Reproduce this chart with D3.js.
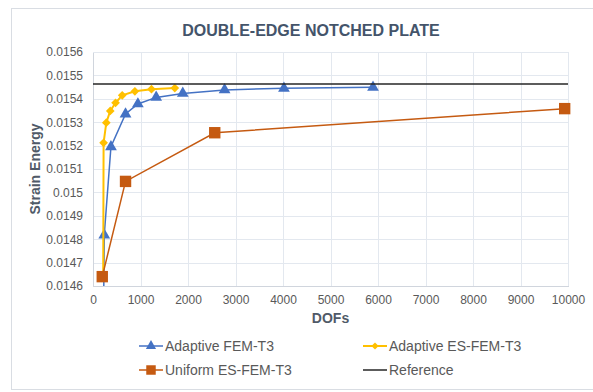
<!DOCTYPE html>
<html>
<head>
  <meta charset="utf-8">
  <title>Double-edge notched plate</title>
  <script src="https://d3js.org/d3.v7.min.js"></script>
  <style>
    body { margin: 0; background: #fff; font-family: "Liberation Sans", Arial, sans-serif; }
    .grid line { stroke: #e3e8ef; stroke-width: 1px; shape-rendering: crispEdges; }
    .axis path, .axis line { stroke: #d0d5dd; shape-rendering: crispEdges; }
    .axis text { fill: #595959; font-size: 12px; font-family: "Liberation Sans", Arial, sans-serif; }
    .line { fill: none; }
  </style>
</head>
<body>
  <script>
    // values
    var xTicks = [0, 1000, 2000, 3000, 4000, 5000, 6000, 7000, 8000, 9000, 10000];
    var yTicks = [0.0146, 0.0147, 0.0148, 0.0149, 0.015, 0.0151, 0.0152, 0.0153, 0.0154, 0.0155, 0.0156];

    var femDofs = [225, 237, 378, 685, 945, 1330, 1890, 2770, 4020, 5895];
    var femEnergy = [0.01455, 0.014818, 0.015195, 0.015335, 0.015378, 0.015406, 0.015423, 0.015438, 0.015445, 0.015449];

    var esDofs = [215, 223, 280, 363, 475, 615, 882, 1231, 1722];
    var esEnergy = [0.01465, 0.015212, 0.015298, 0.015348, 0.015383, 0.015415, 0.015432, 0.015441, 0.015446];

    var uniDofs = [195, 685, 2563, 9930];
    var uniEnergy = [0.01464, 0.015047, 0.015255, 0.015358];

    var refDofs = [0, 10000];
    var refEnergy = [0.015463, 0.015463];

    var series = [
      {name: "Adaptive FEM-T3", x: femDofs, y: femEnergy, color: "#4472c4", width: 1.5, marker: "triangle"},
      {name: "Adaptive ES-FEM-T3", x: esDofs, y: esEnergy, color: "#ffc000", width: 2, marker: "diamond"},
      {name: "Uniform ES-FEM-T3", x: uniDofs, y: uniEnergy, color: "#c55a11", width: 1.5, marker: "square"},
      {name: "Reference", x: refDofs, y: refEnergy, color: "#262626", width: 1.5, marker: null}
    ];

    var W = 593, H = 392;
    var margin = {top: 52, right: 25, bottom: 106, left: 93},
        width = W - margin.left - margin.right,
        height = H - margin.top - margin.bottom;

    var x = d3.scaleLinear().domain([0, 10000]).range([0, width]);
    var y = d3.scaleLinear().domain([0.0146, 0.0156]).range([height, 0]);

    var svg = d3.select("body").append("svg")
        .attr("width", W)
        .attr("height", H);

    // chart frame
    svg.append("rect")
        .attr("x", 11.5).attr("y", 8.5)
        .attr("width", 620).attr("height", 381)
        .attr("fill", "#fff").attr("stroke", "#d9dde3");

    svg.append("text")
        .attr("x", 311).attr("y", 36)
        .attr("text-anchor", "middle")
        .attr("font-size", "16px").attr("font-weight", "bold")
        .attr("fill", "#44546a")
        .text("DOUBLE-EDGE NOTCHED PLATE");

    var g = svg.append("g")
        .attr("transform", "translate(" + margin.left + "," + margin.top + ")");

    g.append("clipPath").attr("id", "plot")
      .append("rect").attr("x", -8).attr("y", -8).attr("width", width + 16).attr("height", height + 8);

    // gridlines
    g.append("g").attr("class", "grid")
      .selectAll("line").data(yTicks).enter().append("line")
        .attr("x1", 0).attr("x2", width)
        .attr("y1", function(d) { return Math.round(y(d)) + 0.5; })
        .attr("y2", function(d) { return Math.round(y(d)) + 0.5; });

    g.append("g").attr("class", "grid")
      .selectAll("line").data(xTicks).enter().append("line")
        .attr("y1", 0).attr("y2", height)
        .attr("x1", function(d) { return Math.round(x(d)) + 0.5; })
        .attr("x2", function(d) { return Math.round(x(d)) + 0.5; });

    g.append("g")
        .attr("class", "x axis")
        .attr("transform", "translate(0," + height + ")")
        .call(d3.axisBottom(x).tickValues(xTicks).tickSize(0).tickPadding(9).tickFormat(d3.format("d")));

    g.append("g")
        .attr("class", "y axis")
        .call(d3.axisLeft(y).tickValues(yTicks).tickSize(0).tickPadding(10)
          .tickFormat(function(d) { return String(+d.toFixed(4)); }));

    g.selectAll(".axis .domain").attr("stroke", "#d0d5dd");

    // axis titles
    g.append("text")
        .attr("x", width / 2).attr("y", height + 37)
        .attr("text-anchor", "middle")
        .attr("font-size", "14px").attr("font-weight", "bold")
        .attr("fill", "#505a68")
        .text("DOFs");

    g.append("text")
        .attr("transform", "translate(" + (-53) + "," + (height / 2) + ") rotate(-90)")
        .attr("text-anchor", "middle")
        .attr("font-size", "14px").attr("font-weight", "bold")
        .attr("fill", "#505a68")
        .text("Strain Energy");

    var symbols = {
      triangle: d3.symbol().type(d3.symbolTriangle).size(60),
      diamond: d3.symbol().type(d3.symbolSquare).size(38),
      square: d3.symbol().type(d3.symbolSquare).size(130)
    };

    var line = d3.line()
        .x(function(d) { return x(d[0]); })
        .y(function(d) { return y(d[1]); });

    var plot = g.append("g").attr("clip-path", "url(#plot)");

    series.forEach(function(s) {
      var pts = s.x.map(function(v, i) { return [v, s.y[i]]; });
      plot.append("path")
          .datum(pts)
          .attr("class", "line")
          .attr("stroke", s.color)
          .attr("stroke-width", s.width)
          .attr("d", line);
      if (s.marker) {
        plot.selectAll(null).data(pts).enter().append("path")
            .attr("d", symbols[s.marker])
            .attr("fill", s.color)
            .attr("transform", function(d) {
              return "translate(" + x(d[0]) + "," + y(d[1]) + ")" + (s.marker === "diamond" ? " rotate(45)" : "");
            });
      }
    });

    // legend
    var legendPos = [[139, 346], [363, 346], [139, 370], [363, 370]];
    var legendSymbols = {
      triangle: d3.symbol().type(d3.symbolTriangle).size(45),
      diamond: d3.symbol().type(d3.symbolSquare).size(26),
      square: d3.symbol().type(d3.symbolSquare).size(90)
    };
    series.forEach(function(s, i) {
      var lg = svg.append("g").attr("transform", "translate(" + legendPos[i][0] + "," + legendPos[i][1] + ")");
      lg.append("line").attr("x1", 0).attr("x2", 24)
          .attr("stroke", s.color).attr("stroke-width", s.width);
      if (s.marker) {
        lg.append("path").attr("d", legendSymbols[s.marker]).attr("fill", s.color)
            .attr("transform", "translate(12,0)" + (s.marker === "diamond" ? " rotate(45)" : ""));
      }
      lg.append("text").attr("x", 26).attr("y", 5)
          .attr("font-size", "14px").attr("fill", "#595959")
          .text(s.name);
    });
  </script>
</body>
</html>
